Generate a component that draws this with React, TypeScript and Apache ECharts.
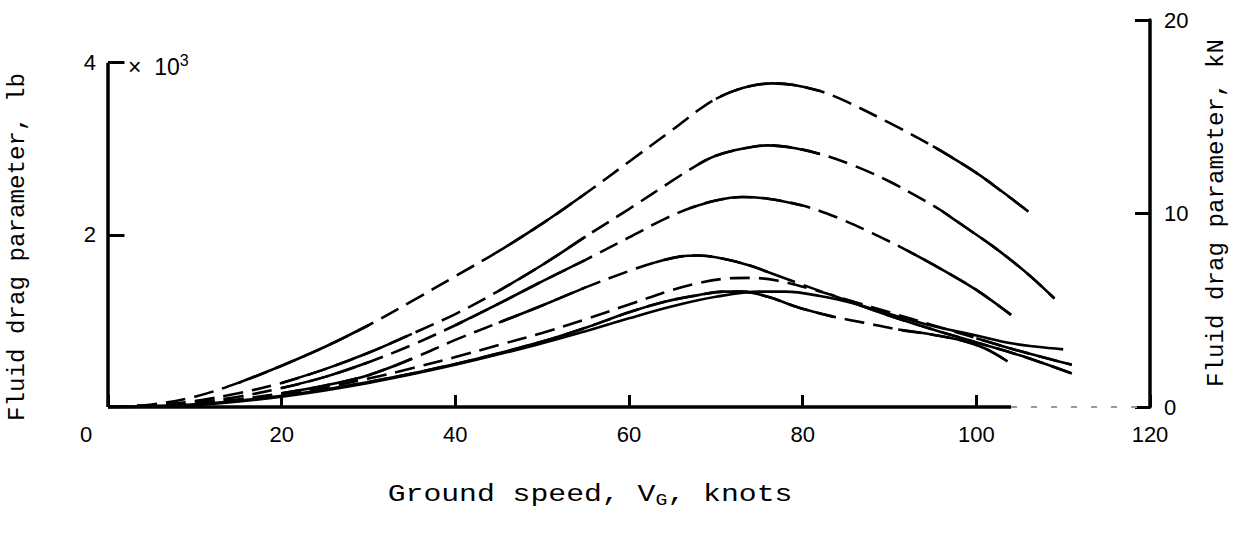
import React, { useEffect, useRef } from 'react';
import * as echarts from 'echarts';

// Ground speed (knots) and fluid drag parameter (x 10^3 lb) for each curve
const speedA = [0, 5, 10, 15, 20, 25, 30, 35, 40, 45, 50, 55, 60, 65, 68, 70, 72, 74, 76.5, 79, 82, 85, 90, 95, 100, 103, 106];
const dragA = [0, 0.03, 0.12, 0.28, 0.48, 0.7, 0.95, 1.23, 1.52, 1.81, 2.13, 2.48, 2.85, 3.22, 3.45, 3.58, 3.67, 3.73, 3.76, 3.74, 3.67, 3.55, 3.3, 3.03, 2.72, 2.5, 2.27];
const solidA = [[15, 30], [45, 55], [70, 82], [95, 106]];

const speedB = [0, 5, 10, 15, 20, 25, 30, 35, 40, 45, 50, 55, 60, 65, 68, 70, 73, 76, 79, 82, 86, 90, 94, 96, 98, 102, 106, 109];
const dragB = [0, 0.02, 0.07, 0.16, 0.28, 0.44, 0.63, 0.85, 1.08, 1.35, 1.65, 1.98, 2.3, 2.63, 2.82, 2.92, 3.0, 3.04, 3.01, 2.94, 2.8, 2.62, 2.4, 2.28, 2.14, 1.86, 1.54, 1.26];
const solidB = [[20, 35], [45, 55], [68, 82], [96, 109]];

const speedC = [0, 5, 10, 15, 20, 25, 30, 35, 40, 45, 50, 55, 60, 64, 67, 70, 73, 76, 80, 84, 88, 92, 96, 100, 104];
const dragC = [0, 0.01, 0.05, 0.12, 0.22, 0.35, 0.52, 0.72, 0.95, 1.2, 1.46, 1.71, 1.97, 2.18, 2.31, 2.4, 2.44, 2.42, 2.34, 2.2, 2.02, 1.82, 1.6, 1.36, 1.07];
const solidC = [[20, 30], [40, 55], [67, 80], [92, 104]];

const speedD = [0, 5, 10, 15, 20, 25, 30, 35, 40, 45, 50, 55, 60, 63, 66, 68, 71, 74, 77, 80, 85, 90, 95, 100, 105, 111];
const dragD = [0, 0.01, 0.04, 0.09, 0.16, 0.25, 0.37, 0.56, 0.78, 0.98, 1.18, 1.39, 1.58, 1.68, 1.75, 1.76, 1.72, 1.64, 1.53, 1.42, 1.24, 1.06, 0.9, 0.75, 0.6, 0.39];
const solidD = [[20, 35], [45, 55], [63, 77], [85, 111]];

const speedE = [0, 10, 20, 25, 30, 35, 40, 45, 50, 55, 60, 65, 68, 71, 74, 77, 81, 86, 90, 95, 100, 105, 111];
const dragE = [0, 0.03, 0.15, 0.23, 0.33, 0.45, 0.58, 0.72, 0.86, 1.02, 1.19, 1.36, 1.44, 1.49, 1.5, 1.47, 1.37, 1.22, 1.1, 0.95, 0.8, 0.65, 0.49];
const solidE = [[100, 111]];

const speedF = [0, 10, 20, 30, 40, 50, 55, 60, 64, 68, 71, 73, 76, 79.7, 83.5, 87, 91, 95, 98, 101, 103.6];
const dragF = [0, 0.03, 0.13, 0.29, 0.5, 0.76, 0.92, 1.1, 1.22, 1.3, 1.34, 1.34, 1.28, 1.15, 1.05, 0.98, 0.9, 0.84, 0.78, 0.68, 0.53];
const solidF = [[0, 83.5], [91, 103.6]];

const speedG = [0, 10, 20, 30, 40, 50, 55, 60, 65, 70, 75, 78, 82, 86, 91, 95, 100, 104, 107, 110];
const dragG = [0, 0.02, 0.12, 0.28, 0.49, 0.74, 0.88, 1.03, 1.17, 1.28, 1.34, 1.34, 1.29, 1.2, 1.05, 0.94, 0.83, 0.74, 0.7, 0.67];
const solidG = [[0, 110]];

const curves = [
  { speed: speedA, drag: dragA, solid: solidA },
  { speed: speedB, drag: dragB, solid: solidB },
  { speed: speedC, drag: dragC, solid: solidC },
  { speed: speedD, drag: dragD, solid: solidD },
  { speed: speedE, drag: dragE, solid: solidE },
  { speed: speedF, drag: dragF, solid: solidF },
  { speed: speedG, drag: dragG, solid: solidG },
];

const leftTickValues = [2, 4];
const KLB_PER_20KN = 4.4962; // 20 kN expressed in 10^3 lb

function solidPieces(speed: number[], drag: number[], solid: number[][]) {
  const out: any[] = [];
  solid.forEach(([a, b], k) => {
    if (k > 0) out.push([a, '-']);
    speed.forEach((v, i) => {
      if (v >= a && v <= b) out.push([v, drag[i]]);
    });
  });
  return out;
}

export default function App() {
  const ref = useRef<HTMLDivElement>(null);
  useEffect(() => {
    if (!ref.current) return;
    const chart = echarts.init(ref.current, null, { renderer: 'svg' });
    const series: any[] = [];
    curves.forEach((c, idx) => {
      const full = c.speed.map((v, i) => [v, c.drag[i]]);
      const allSolid = c.solid.length === 1 && c.solid[0][0] <= c.speed[0] && c.solid[0][1] >= c.speed[c.speed.length - 1];
      if (!allSolid) {
        series.push({
          type: 'line', name: 'curve' + idx + 'd', data: full,
          showSymbol: false, smooth: 0.35,
          lineStyle: { color: '#000', width: 2.6, type: [20, 9] }, z: 2,
        });
      }
      series.push({
        type: 'line', name: 'curve' + idx + 's', data: solidPieces(c.speed, c.drag, c.solid),
        showSymbol: false, smooth: 0.35, connectNulls: false,
        lineStyle: { color: '#000', width: 2.6, type: 'solid' }, z: 3,
      });
    });
    const axisStyle = { color: '#000', width: 3.5, type: 'solid' };
    series.push({
      type: 'line', data: [],
      markLine: {
        silent: true, symbol: 'none', label: { show: false }, animation: false,
        data: [
          [{ coord: [0, 0], lineStyle: axisStyle }, { coord: [0, 4] }],
          ...leftTickValues.map((t) => [{ coord: [0, t], lineStyle: { color: '#000', width: 3, type: 'solid' } }, { coord: [1.9, t] }]),
          [{ coord: [0, 0], lineStyle: axisStyle }, { coord: [104, 0] }],
          [{ coord: [104, 0], lineStyle: { color: '#999', width: 2, type: [6, 14] } }, { coord: [120, 0] }],
        ],
      },
    });
    const labelFont = { fontFamily: '"Liberation Sans", Arial, sans-serif', fontSize: 22, color: '#000' };
    chart.setOption({
      animation: false,
      backgroundColor: '#fff',
      grid: { left: 108, right: 88, top: 20, bottom: 130, containLabel: false },
      xAxis: {
        type: 'value', min: 0, max: 120, interval: 20,
        axisLine: { show: false },
        axisTick: { show: true, inside: true, length: 12, lineStyle: { color: '#000', width: 3 } },
        axisLabel: {
          ...labelFont, margin: 16,
          formatter: (v: number) => (v === 0 ? '{z|0}' : String(v)),
          rich: { z: { ...labelFont, padding: [0, 44, 0, 0] } },
        },
        splitLine: { show: false },
      },
      yAxis: [
        {
          type: 'value', min: 0, max: KLB_PER_20KN, interval: 2, position: 'left',
          axisLine: { show: false },
          axisTick: { show: false },
          axisLabel: { ...labelFont, margin: 12, showMaxLabel: false, formatter: (v: number) => (v === 0 ? '' : String(v)) },
          splitLine: { show: false },
        },
        {
          type: 'value', min: 0, max: 20, interval: 10, position: 'right',
          axisLine: { show: true, lineStyle: { color: '#000', width: 3.5 } },
          axisTick: { show: true, inside: true, length: 15, lineStyle: { color: '#000', width: 3 } },
          axisLabel: { ...labelFont, margin: 14 },
          splitLine: { show: false },
        },
      ],
      graphic: [
        {
          type: 'text', x: 18, y: 247, rotation: Math.PI / 2, scaleX: 1.05,
          style: { text: 'Fluid drag parameter, lb', font: '23px "Liberation Mono"', align: 'center', verticalAlign: 'middle', fill: '#000' },
        },
        {
          type: 'text', x: 1217, y: 213, rotation: Math.PI / 2, scaleX: 1.05,
          style: { text: 'Fluid drag parameter, kN', font: '23px "Liberation Mono"', align: 'center', verticalAlign: 'middle', fill: '#000' },
        },
        {
          type: 'text', x: 590, y: 494, scaleX: 1.24,
          style: {
            text: '{n|Ground speed, V}{sub|G}{n|, knots}',
            align: 'center', verticalAlign: 'middle', fill: '#000',
            rich: {
              n: { fontFamily: '"Liberation Mono"', fontSize: 24, lineHeight: 30, fill: '#000' },
              sub: { fontFamily: '"Liberation Mono"', fontSize: 16, lineHeight: 14, verticalAlign: 'bottom', fill: '#000' },
            },
          },
        },
        {
          type: 'text', x: 128, y: 67,
          style: {
            text: '{n|×  10}{sup|3}',
            align: 'left', verticalAlign: 'middle', fill: '#000',
            rich: {
              n: { fontFamily: '"Liberation Sans"', fontSize: 23, lineHeight: 30, fill: '#000' },
              sup: { fontFamily: '"Liberation Sans"', fontSize: 16, lineHeight: 16, verticalAlign: 'top', fill: '#000' },
            },
          },
        },
      ],
      series,
    });
    return () => chart.dispose();
  }, []);
  return <div ref={ref} style={{ position: 'fixed', left: 0, top: 0, width: 1238, height: 537, background: '#fff' }} />;
}
